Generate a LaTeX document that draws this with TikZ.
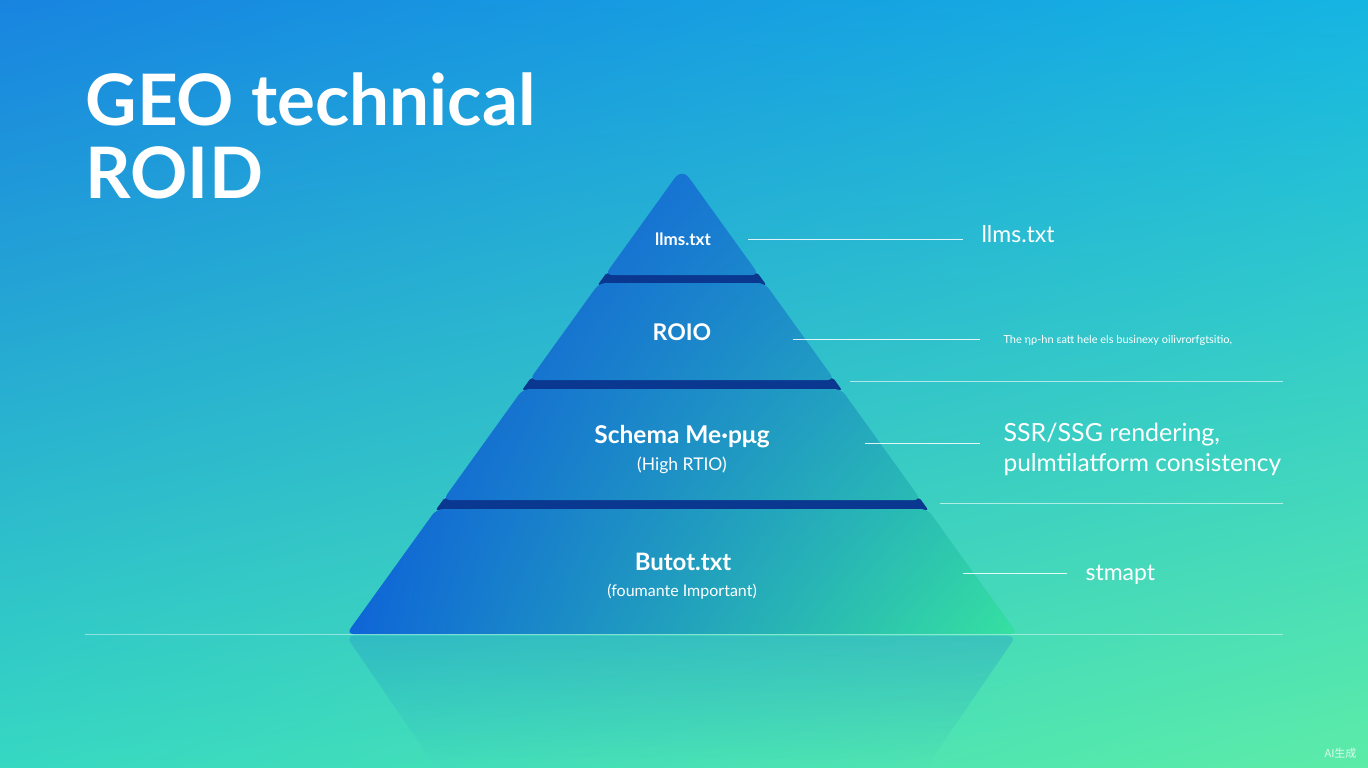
\documentclass[tikz,border=0pt]{standalone}
\usepackage{fontspec}
\setmainfont{Lato}
\newfontfamily\cjk{Noto Sans CJK SC}
\usetikzlibrary{fadings,shadings}
\definecolor{bgUL}{HTML}{1884E0}
\definecolor{bgUR}{HTML}{15B5E2}
\definecolor{bgLL}{HTML}{36D8C2}
\definecolor{bgLR}{HTML}{5CECA8}
\definecolor{tUL}{HTML}{1050D8}
\definecolor{tUR}{HTML}{1C94D0}
\definecolor{tLL}{HTML}{0E64D8}
\definecolor{tLR}{HTML}{36E2A0}
\definecolor{navy}{HTML}{0A3790}
\definecolor{refl}{HTML}{1E8CC8}
\begin{document}
\begin{tikzpicture}[x=1pt,y=-1pt,
  conn/.style={draw=white, line width=0.9pt, draw opacity=0.85},
  longconn/.style={draw=white, line width=0.8pt, draw opacity=0.6},
  band/.style={fill=navy, rounded corners=2pt},
  tierlabel/.style={text=white, anchor=base, font=\bfseries\fontsize{23}{26}\selectfont},
  sublabel/.style={text=white, anchor=base, font=\fontsize{16}{19}\selectfont},
  sidelabel/.style={text=white, anchor=base west, font=\fontsize{23}{26}\selectfont},
  titlelabel/.style={text=white, anchor=base west, font=\bfseries\fontsize{71}{75}\selectfont}]
\useasboundingbox (0,0) rectangle (1368,768);
% background
\shade[upper left=bgUL, upper right=bgUR, lower left=bgLL, lower right=bgLR] (0,0) rectangle (1368,768);
% reflection
\fill[refl, fill opacity=0.3, path fading=south, rounded corners=8pt] (346.5,636) -- (1017.5,636) -- (927,768) -- (437,768) -- cycle;
% horizon line
\draw[white, line width=0.8pt, draw opacity=0.45] (85,634) -- (1283,634);
% dark separator bands
\path[band] (606.4,273) -- (757.6,273) -- (766.2,285) -- (597.8,285) -- cycle;
\path[band] (530.8,378) -- (833.2,378) -- (841.8,390) -- (522.2,390) -- cycle;
\path[band] (444.4,498) -- (919.6,498) -- (928.2,510) -- (435.8,510) -- cycle;
% tiers
\begin{scope}
\clip[rounded corners=7pt]
  (682,275) -- (605,275) {[rounded corners=12pt] -- (682,168)} -- (759,275) -- cycle
  (682,380) -- (529.4,380) -- (599.2,283) -- (764.8,283) -- (834.6,380) -- cycle
  (682,500) -- (443,500) -- (522.9,389) -- (841.1,389) -- (921,500) -- cycle
  (682,634) -- (346.5,634) -- (436.5,509) -- (927.5,509) -- (1017.5,634) -- cycle;
\shade[upper left=tUL, upper right=tUR, lower left=tLL, lower right=tLR] (340,160) rectangle (1020,636);
\end{scope}
% title
\node[titlelabel] (t1) at (82,125) {GEO technical};
\node[titlelabel] (t2) at (82,198) {ROID};
% tier labels
\node[tierlabel, font=\bfseries\fontsize{17}{20}\selectfont] (l1) at (683,245) {llms.txt};
\node[tierlabel] (l2) at (682,340) {ROIO};
\node[tierlabel, font=\bfseries\fontsize{24.5}{28}\selectfont] (l3) at (682,443) {Schema Me·pμg};
\node[sublabel, font=\fontsize{17.5}{20}\selectfont] (l3b) at (682,470) {(High RTIO)};
\node[tierlabel, font=\bfseries\fontsize{24}{28}\selectfont] (l4) at (683,570) {Butot.txt};
\node[sublabel] (l4b) at (682,596) {(foumante Important)};
% side labels
\node[sidelabel] (r1) at (978,242) {llms.txt};
\node[text=white, anchor=base west, font=\fontsize{11}{13}\selectfont] (r2) at (1000,343) {The ηρ-hn εatt hele els businexy oilivrorfgtsitio,};
\node[sidelabel, font=\fontsize{25}{30}\selectfont] (r3) at (1000,441) {SSR/SSG rendering,};
\node[sidelabel, font=\fontsize{24.5}{30}\selectfont] (r3b) at (1000,471) {pulmtilatform consistency};
\node[sidelabel] (r4) at (1082,580) {stmapt};
% connectors
\coordinate (s1) at (748,239); \coordinate (e1) at (963,239);
\coordinate (s2) at (793,339); \coordinate (e2) at (980,339);
\coordinate (s3) at (850,381); \coordinate (e3) at (1283,381);
\coordinate (s4) at (865,443); \coordinate (e4) at (980,443);
\coordinate (s5) at (940,503); \coordinate (e5) at (1283,503);
\coordinate (s6) at (963,573); \coordinate (e6) at (1067,573);
\draw[conn] (s1) -- (e1);
\draw[conn] (s2) -- (e2);
\draw[longconn] (s3) -- (e3);
\draw[conn] (s4) -- (e4);
\draw[longconn] (s5) -- (e5);
\draw[conn] (s6) -- (e6);
% watermark
\node[text=white, text opacity=0.8, anchor=base east, font=\cjk\fontsize{11}{13}\selectfont] (wm) at (1360,757) {AI生成};
\end{tikzpicture}
\end{document}
